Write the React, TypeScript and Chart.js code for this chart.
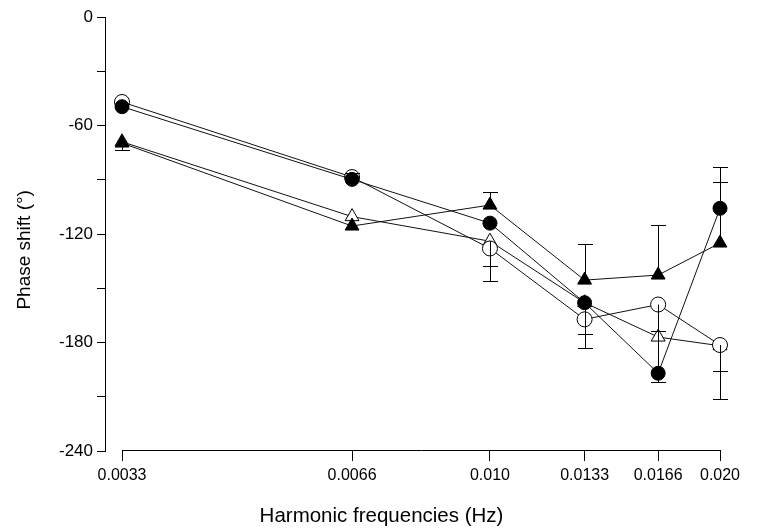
import React, { useEffect, useRef } from 'react';
import { Chart, registerables } from 'chart.js';

Chart.register(...registerables);

// ---- data ----
const frequencies = [0.0033, 0.0066, 0.01, 0.0133, 0.0166, 0.02];
const xTickLabels = ['0.0033', '0.0066', '0.010', '0.0133', '0.0166', '0.020'];

const filledCircle = [-49.6, -89.8, -114, -158, -197, -105.8];
const filledTriangle = [-69.7, -115.6, -104, -145.5, -142.7, -125];
const openCircle = [-47, -88.5, -128, -167.2, -159, -181.4];
const openTriangle = [-69, -110.4, -124, -158, -177, -181.8];

// error bar end values (null = no bar)
const filledCircleErrUp = [null, -86, null, null, -173.7, -82.8];
const filledCircleErrDown = [null, null, null, null, -202, null];
const filledTriangleErrUp = [null, null, -96.6, -125.7, -114.9, -91];
const filledTriangleErrDown = [-73.5, null, null, null, null, null];
const openCircleErrDown = [null, null, -146, -183.2, -173.7, -196];
const openTriangleErrDown = [null, null, -137.6, -175.5, null, -211];

const yMin = -240;
const yMax = 0;
const yStep = 30;
const yLabelStep = 60;

const FONT = "'Liberation Sans', Arial, Helvetica, sans-serif";
const X_TITLE_SIZE = 20.5;

const toPoints = (vals: number[]) => frequencies.map((f, i) => ({ x: f, y: vals[i] }));

const errorSets: { up: (number | null)[] | null; down: (number | null)[] | null }[] = [
  { up: filledCircleErrUp, down: filledCircleErrDown },
  { up: filledTriangleErrUp, down: filledTriangleErrDown },
  { up: null, down: openCircleErrDown },
  { up: null, down: openTriangleErrDown },
];

const errorBarPlugin = {
  id: 'errorBars',
  afterDatasetsDraw(chart: any) {
    const ctx = chart.ctx;
    const yScale = chart.scales.y;
    ctx.save();
    ctx.strokeStyle = '#000';
    ctx.lineWidth = 1;
    errorSets.forEach((set, di) => {
      const meta = chart.getDatasetMeta(di);
      [set.up, set.down].forEach((arr) => {
        if (!arr) return;
        arr.forEach((v, i) => {
          if (v === null || v === undefined) return;
          const pt = meta.data[i];
          const x = Math.round(pt.x) + 0.5;
          const y1 = Math.round(yScale.getPixelForValue(v)) + 0.5;
          ctx.beginPath();
          ctx.moveTo(x, pt.y);
          ctx.lineTo(x, y1);
          ctx.moveTo(x - 7.5, y1);
          ctx.lineTo(x + 7.5, y1);
          ctx.stroke();
        });
      });
    });
    ctx.restore();
  },
};

const xAxisLinePlugin = {
  id: 'xAxisLine',
  afterDraw(chart: any) {
    const ctx = chart.ctx;
    const xs = chart.scales.x;
    const y = Math.round(chart.chartArea.bottom) - 0.5;
    ctx.save();
    ctx.strokeStyle = '#000';
    ctx.lineWidth = 1;
    ctx.beginPath();
    ctx.moveTo(Math.round(xs.getPixelForValue(frequencies[0])), y);
    ctx.lineTo(Math.round(xs.getPixelForValue(frequencies[frequencies.length - 1])) + 1, y);
    ctx.stroke();
    ctx.restore();
  },
};

export default function App() {
  const canvasRef = useRef<HTMLCanvasElement | null>(null);

  useEffect(() => {
    if (!canvasRef.current) return;
    Chart.defaults.font.family = FONT;
    Chart.defaults.color = '#000';

    const lineCommon = {
      borderColor: '#111',
      borderWidth: 1,
      pointBorderColor: '#000',
      pointBorderWidth: 1,
      fill: false,
      tension: 0,
      clip: false as any,
    };

    const chart = new Chart(canvasRef.current, {
      type: 'line',
      data: {
        datasets: [
          {
            ...lineCommon,
            label: 'filled circle',
            data: toPoints(filledCircle),
            pointStyle: 'circle',
            pointRadius: 7,
            pointBackgroundColor: '#000',
          },
          {
            ...lineCommon,
            label: 'filled triangle',
            data: toPoints(filledTriangle),
            pointStyle: 'triangle',
            pointRadius: 8,
            pointBackgroundColor: '#000',
          },
          {
            ...lineCommon,
            label: 'open circle',
            data: toPoints(openCircle),
            pointStyle: 'circle',
            pointRadius: 7.5,
            pointBackgroundColor: '#fff',
          },
          {
            ...lineCommon,
            label: 'open triangle',
            data: toPoints(openTriangle),
            pointStyle: 'triangle',
            pointRadius: 8,
            pointBackgroundColor: '#fff',
          },
        ],
      },
      options: {
        responsive: false,
        animation: false,
        devicePixelRatio: 1,
        layout: { padding: { top: 17, left: 0, right: 0, bottom: 0 } },
        plugins: {
          legend: { display: false },
          tooltip: { enabled: false },
          title: {
            display: true,
            position: 'bottom',
            text: 'Harmonic frequencies (Hz)',
            color: '#000',
            font: { family: FONT, size: X_TITLE_SIZE, weight: 'normal' },
            padding: { top: 0, bottom: 0 },
          },
        },
        scales: {
          x: {
            type: 'logarithmic',
            min: 0.003135,
            max: 0.02,
            afterBuildTicks: (scale: any) => {
              scale.ticks = frequencies.map((v) => ({ value: v }));
            },
            afterFit: (scale: any) => {
              scale.height = 529 - 451 - X_TITLE_SIZE * 1.2;
            },
            border: { display: false },
            grid: {
              display: true,
              drawOnChartArea: false,
              drawTicks: true,
              tickLength: 10,
              color: '#000',
              lineWidth: 1,
            },
            ticks: {
              autoSkip: false,
              maxRotation: 0,
              minRotation: 0,
              padding: 5,
              color: '#000',
              font: { family: FONT, size: 16 },
              callback: (_v: any, i: number) => xTickLabels[i],
            },
          },
          y: {
            type: 'linear',
            position: 'left',
            min: yMin,
            max: yMax,
            afterFit: (scale: any) => {
              scale.width = 105;
            },
            border: { display: true, color: '#000', width: 1 },
            grid: {
              display: true,
              drawOnChartArea: false,
              drawTicks: true,
              tickLength: 8,
              color: '#000',
              lineWidth: 1,
            },
            ticks: {
              stepSize: yStep,
              padding: 4,
              color: '#000',
              font: { family: FONT, size: 17 },
              callback: (v: any) => (Number(v) % yLabelStep === 0 ? String(v) : ''),
            },
            title: {
              display: true,
              text: 'Phase shift (°)      ',
              color: '#000',
              font: { family: FONT, size: 19 },
              padding: { top: 13.6, bottom: 0 },
            },
          },
          yRight: {
            type: 'linear',
            position: 'right',
            display: true,
            afterFit: (scale: any) => {
              scale.width = 43;
            },
            border: { display: false },
            grid: { display: false, drawTicks: false },
            ticks: { display: false },
          },
        },
      },
      plugins: [errorBarPlugin, xAxisLinePlugin],
    } as any);

    return () => chart.destroy();
  }, []);

  return (
    <div style={{ position: 'fixed', left: 0, top: 0, width: 763, height: 529, background: '#fff' }}>
      <canvas ref={canvasRef} width={763} height={529} style={{ display: 'block' }} />
    </div>
  );
}
